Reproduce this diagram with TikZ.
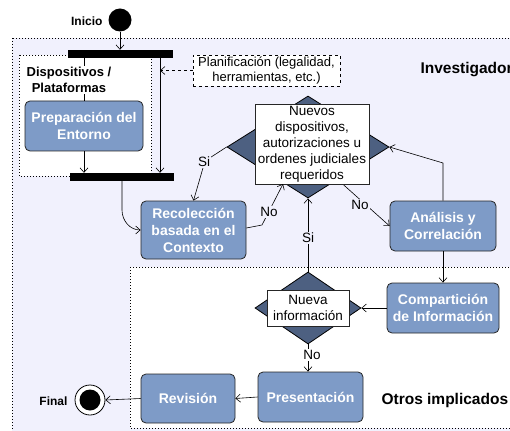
\documentclass[tikz,border=0pt]{standalone}
\usepackage{fontspec}
\setmainfont{Liberation Sans}
\usetikzlibrary{shapes.geometric,arrows.meta}
\definecolor{lav}{HTML}{F1F1FD}
\definecolor{boxfill}{HTML}{7E9BC7}
\definecolor{dia}{HTML}{4D6081}
\tikzset{
  act/.style={draw=black!85, fill=boxfill, rounded corners=5pt, text=white,
    font=\fontsize{14}{17}\selectfont\bfseries, align=center, inner sep=0pt, line width=0.8pt},
  dec/.style={diamond, draw=black, fill=dia, inner sep=0pt, line width=0.8pt},
  txtbox/.style={draw=black!85, fill=white, align=center, inner sep=0pt, line width=0.8pt,
    font=\fontsize{13.5}{16}\selectfont},
  bar/.style={fill=black, draw=black, inner sep=0pt},
  arr/.style={-{Straight Barb[length=4.5pt,width=8pt]}, line width=0.6pt},
  lbl/.style={font=\fontsize{13.5}{16}\selectfont, fill=lav, inner sep=1pt},
  lblw/.style={font=\fontsize{13.5}{16}\selectfont, fill=white, inner sep=1pt},
  region/.style={dash pattern=on 1pt off 2pt, line width=0.8pt},
  bigtitle/.style={font=\fontsize{15.5}{19}\selectfont\bfseries, anchor=west},
  small/.style={font=\fontsize{12}{14}\selectfont\bfseries}
}
\begin{document}
\begin{tikzpicture}[x=1pt,y=-1pt]
\useasboundingbox (0,0) rectangle (510,430);
% regions
\draw[region, fill=lav] (12,38) rectangle (520,440);
\draw[region, fill=white] (130,267) rectangle (520,428);
\draw[region, fill=white] (19,55) rectangle (151,176);
\node[bigtitle] (tinv) at (417,70) {Investigador};
\node[bigtitle] (totros) at (378,400) {Otros implicados};

% start
\node[circle, fill=black, minimum size=23pt, inner sep=0pt] (inicio) at (120,20) {};
\node[small, anchor=east] (tinicio) at (106,21) {Inicio};

% bars
\node[bar, minimum width=104pt, minimum height=7pt] (topbar) at (120,53.5) {};
\node[bar, minimum width=103pt, minimum height=7pt] (joinbar) at (121.5,176.5) {};

% boxes
\node[act, minimum width=118pt, minimum height=50pt] (prep) at (84,126) {Preparación del\\Entorno};
\node[act, minimum width=105pt, minimum height=58pt] (recol) at (193.5,230) {Recolección\\basada en el\\Contexto};
\node[act, minimum width=106pt, minimum height=50pt] (anal) at (443,226) {Análisis y\\Correlación};
\node[act, minimum width=112pt, minimum height=50pt] (comp) at (443,308) {Compartición\\de Información};
\node[act, minimum width=105pt, minimum height=50pt] (pres) at (310.5,397) {Presentación};
\node[act, minimum width=94pt, minimum height=49pt] (rev) at (188,398.5) {Revisión};

% planning note
\node[draw, dashed, fill=white, align=center, inner sep=0pt, minimum width=147pt, minimum height=31pt,
  font=\fontsize{13}{15}\selectfont] (plan) at (266.5,70.5) {Planificación (legalidad,\\herramientas, etc.)};

% diamonds
\node[dec, minimum width=162pt, minimum height=102pt] (bigd) at (308,147) {};
\node[dec, minimum width=106pt, minimum height=72pt] (smd) at (308,308) {};

% final
\node[circle, draw=black, fill=white, line width=0.8pt, minimum size=30pt, inner sep=0pt] (final) at (90,400) {};
\node[circle, fill=black, minimum size=21pt, inner sep=0pt] (finalin) at (final.center) {};
\node[small, anchor=east] (tfinal) at (71,401) {Final};

% coordinates
\coordinate (vx) at (160,0);
\coordinate (jx) at (122,0);
\coordinate (px) at (84,0);

% connectors top
\draw[arr] (inicio.south) -- (topbar.north);
\draw[line width=0.6pt] (topbar.south -| px) -- (prep.north);
\node[font=\fontsize{13}{16}\selectfont\bfseries, align=center, fill=white, inner sep=1pt] (tdisp) at (69,80) {Dispositivos /\\Plataformas};
\draw[arr] (prep.south) -- (prep.south |- joinbar.north);
\draw[arr] (topbar.south -| vx) -- (joinbar.north -| vx);
\draw[arr, dashed] (plan.west) -- (plan.west -| vx);
\draw[arr] (joinbar.south -| jx) -- (122,210) to[out=-90,in=180] (recol.west);

% connectors around big diamond
\draw[arr] (bigd.west) -- (205,161) -- (recol.north);
\node[lbl] (lsi1) at (204,162) {Si};
\draw[arr] (337,179) -- (anal.west);
\node[lbl] (lno2) at (360,205) {No};
\draw[arr] (anal.north) -- (443,163) -- (bigd.east);

% text box over big diamond
\node[txtbox, minimum width=114pt, minimum height=80pt] (bigt) at (312,144.5) {Nuevos\\dispositivos,\\autorizaciones u\\ordenes judiciales\\requeridos};

\draw[arr] (recol.east |- 0,228) -- (262,225) -- (283,184);
\node[lbl] (lno1) at (269,212) {No};
\draw[arr] (smd.north) -- (bigd.south);
\node[lbl] (lsi2) at (308,238) {Si};

% lower part
\draw[arr] (anal.south) -- (comp.north);
\draw[arr] (comp.west) -- (smd.east);
\node[txtbox, minimum width=82pt, minimum height=36pt] (smt) at (308,308) {Nueva\\información};
\draw[arr] (smd.south) -- (smd.south |- pres.north);
\node[lblw] (lno3) at (312,355) {No};
\draw[arr] (pres.west) -- (rev.east);
\draw[arr] (rev.west) -- (final.east);
\end{tikzpicture}
\end{document}
